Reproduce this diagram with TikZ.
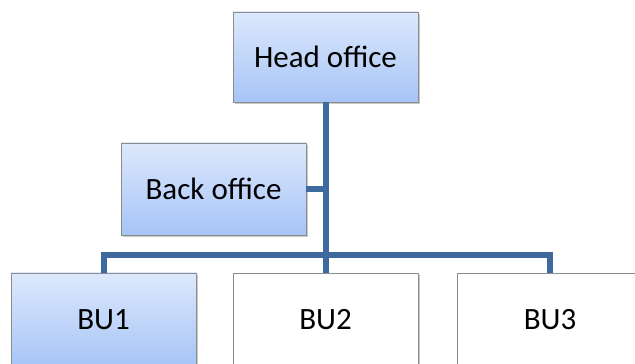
\documentclass[tikz,border=0pt]{standalone}
\usepackage{fontspec}
\setmainfont{Carlito}
\usetikzlibrary{shadows}
\definecolor{linkblue}{HTML}{3E6A9E}
\definecolor{boxtop}{HTML}{DDE8FC}
\definecolor{boxbottom}{HTML}{A6C4F6}
\definecolor{boxedge}{HTML}{8C8C8C}
\tikzset{
  orgbox/.style={draw=boxedge, line width=0.9pt, minimum width=185pt, inner sep=0pt,
    font=\fontsize{31}{37}\selectfont, text=black,
    drop shadow={shadow xshift=1.5pt, shadow yshift=-2pt, opacity=0.35, fill=black!60}},
  bluebox/.style={orgbox, top color=boxtop, bottom color=boxbottom},
  whitebox/.style={orgbox, fill=white},
  link/.style={draw=linkblue, line width=6pt, line join=miter}
}
\begin{document}
\begin{tikzpicture}[x=1pt,y=1pt]
\useasboundingbox (0,0) rectangle (635,364);
\clip (0,0) rectangle (635,364);
\fill[white] (0,0) rectangle (635,364);
\node[bluebox, minimum height=90pt] (head) at (325.5,307) {Head office};
\node[bluebox, minimum height=92pt] (back) at (213.5,175) {Back office};
\node[bluebox, minimum height=94pt] (bu1) at (103.5,44) {BU1};
\node[whitebox, minimum height=94pt] (bu2) at (325.5,44) {BU2};
\node[whitebox, minimum height=94pt] (bu3) at (550,44) {BU3};
\coordinate (bus) at (325.5,109);
\draw[link] (head.south) -- (bus);
\draw[link] (bu1.north) |- (bus) -| (bu3.north);
\draw[link] (bus) -- (bu2.north);
\draw[link] (back.east) -- (back.east -| head.south);
\end{tikzpicture}
\end{document}
